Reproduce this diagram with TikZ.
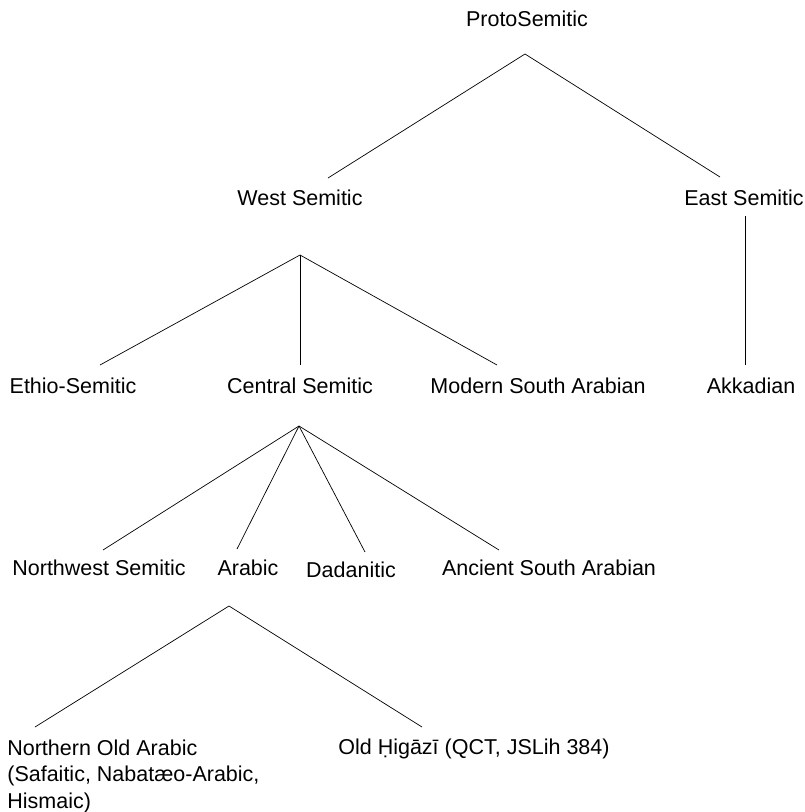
\documentclass[tikz,border=0pt]{standalone}
\usepackage{fontspec}
\setmainfont{Liberation Sans}
\begin{document}
\begin{tikzpicture}[x=1pt, y=-1pt, line width=0.7pt, lang/.style = {inner sep=0pt, anchor=base, font=\fontsize{21.5}{26.5}\selectfont}]
\useasboundingbox (0,0) rectangle (805,812);
% labels
\node[lang] (proto) at (527,26) {ProtoSemitic};
\node[lang] (west) at (300,205) {West Semitic};
\node[lang] (east) at (744,205) {East Semitic};
\node[lang] (ethio) at (73,393) {Ethio-Semitic};
\node[lang] (central) at (300,393) {Central Semitic};
\node[lang] (msa) at (538,393) {Modern South Arabian};
\node[lang] (akk) at (751,393) {Akkadian};
\node[lang] (nw) at (99,575) {Northwest Semitic};
\node[lang] (arabic) at (248,575) {Arabic};
\node[lang] (dadan) at (351,577) {Dadanitic};
\node[lang] (asa) at (549,575) {Ancient South Arabian};
\node[lang, anchor=base west, align=left] (noa) at (7,808) {Northern Old Arabic\\(Safaitic, Nabatæo-Arabic,\\Hismaic)};
\node[lang, anchor=base west] (higazi) at (338,754) {Old Ḥigāzī (QCT, JSLih 384)};
% branch points
\coordinate (proto-b) at (525,54);
\coordinate (west-t) at (328,178);
\coordinate (east-t) at (720,177);
\coordinate (west-b) at (300,255);
\coordinate (east-b) at (745,216);
\coordinate (ethio-t) at (100,365);
\coordinate (central-t) at (300,365);
\coordinate (msa-t) at (497,365);
\coordinate (akk-t) at (745,365);
\coordinate (central-b) at (299,426);
\coordinate (nw-t) at (103,550);
\coordinate (arabic-t) at (237,549);
\coordinate (dadan-t) at (365,552);
\coordinate (asa-t) at (499,550);
\coordinate (arabic-b) at (229,606);
\coordinate (noa-t) at (35,727);
\coordinate (higazi-t) at (422,727);
% edges
\draw (proto-b) -- (west-t);
\draw (proto-b) -- (east-t);
\draw (west-b) -- (ethio-t);
\draw (west-b) -- (central-t);
\draw (west-b) -- (msa-t);
\draw (east-b) -- (akk-t);
\draw (central-b) -- (nw-t);
\draw (central-b) -- (arabic-t);
\draw (central-b) -- (dadan-t);
\draw (central-b) -- (asa-t);
\draw (arabic-b) -- (noa-t);
\draw (arabic-b) -- (higazi-t);
\end{tikzpicture}
\end{document}
